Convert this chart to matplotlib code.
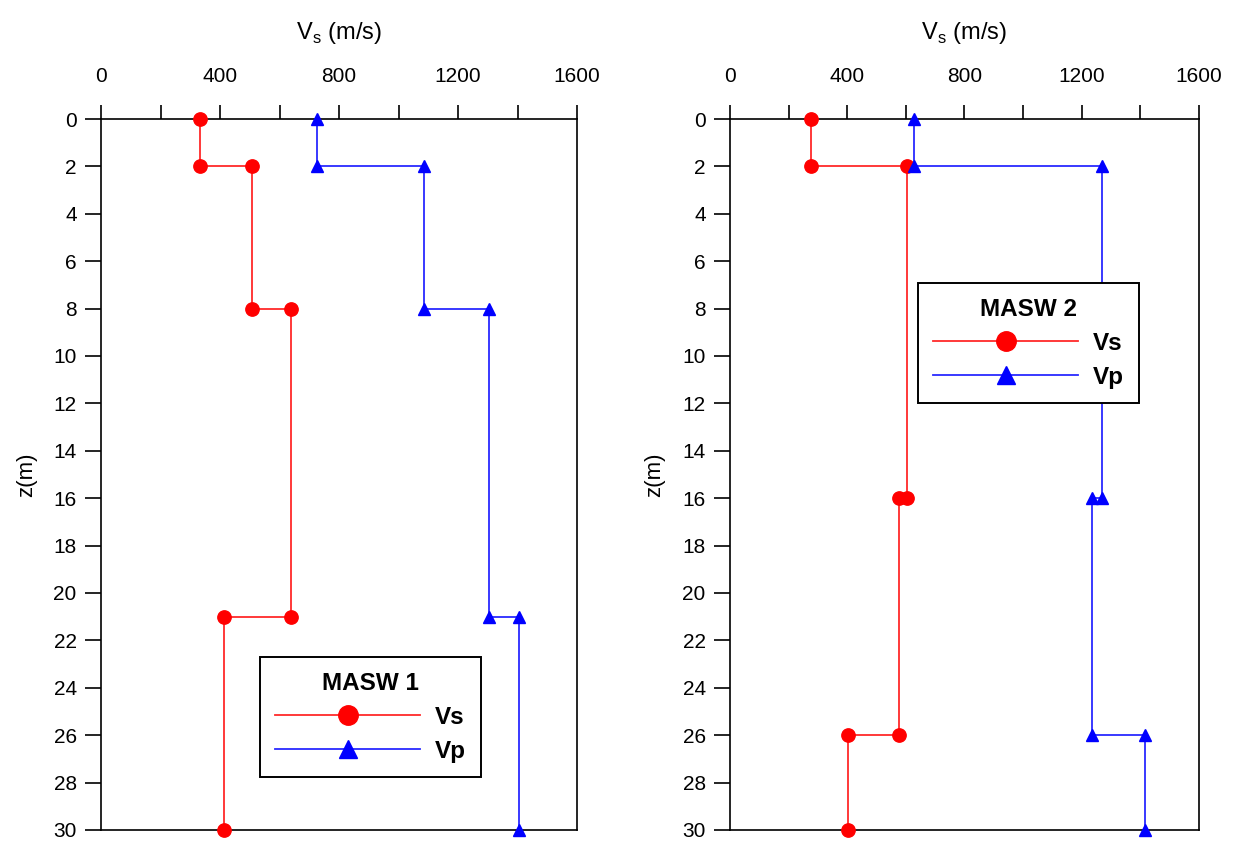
import matplotlib
matplotlib.use("Agg")
import matplotlib.pyplot as plt
from matplotlib.ticker import MultipleLocator

plt.rcParams['font.family'] = ['Liberation Sans', 'DejaVu Sans']

# MASW 1 profile (depth in m, velocity in m/s)
z1 = [0, 2, 2, 8, 8, 21, 21, 30]
vs1 = [333, 333, 508, 508, 640, 640, 413, 413]
vp1 = [726, 726, 1086, 1086, 1305, 1305, 1405, 1405]

# MASW 2 profile
z2 = [0, 2, 2, 16, 16, 26, 26, 30]
vs2 = [276, 276, 603, 603, 578, 578, 403, 403]
vp2 = [628, 628, 1268, 1268, 1235, 1235, 1416, 1416]

titles = ['MASW 1', 'MASW 2']
legend_pos = [(0.334, 0.243), (0.401, 0.769)]

fig = plt.figure(figsize=(12.41, 8.41), dpi=100)
ax1 = fig.add_axes([0.0814, 0.0131, 0.3836, 0.8454])
ax2 = fig.add_axes([0.5882, 0.0131, 0.3779, 0.8454])

for ax, z, vs, vp, title, pos in zip([ax1, ax2], [z1, z2], [vs1, vs2], [vp1, vp2],
                                     titles, legend_pos):
    ax.plot(vs, z, color='#ff2a2a', lw=1.3, marker='o', ms=9.6, mfc='red', mec='red',
            label='Vs', clip_on=False, zorder=3)
    ax.plot(vp, z, color='#2a2aff', lw=1.3, marker='^', ms=8.5, mfc='blue', mec='blue',
            label='Vp', clip_on=False, zorder=3)
    ax.set_xlim(0, 1600)
    ax.set_ylim(30, 0)
    ax.xaxis.tick_top()
    ax.xaxis.set_label_position('top')
    ax.xaxis.set_major_locator(MultipleLocator(400))
    ax.xaxis.set_minor_locator(MultipleLocator(200))
    ax.yaxis.set_major_locator(MultipleLocator(2))
    ax.tick_params(axis='x', which='both', direction='out', length=10, width=1.2,
                   labelsize=15, pad=14)
    ax.tick_params(axis='y', direction='out', length=11.5, width=1.2, labelsize=15, pad=6)
    for s in ax.spines.values():
        s.set_linewidth(1.2)
    ax.set_xlabel('V$_\\mathregular{s}$ (m/s)', fontsize=17, labelpad=20)
    ax.set_ylabel('z(m)', fontsize=16, labelpad=12)
    leg = ax.legend(loc='upper left', bbox_to_anchor=pos, title=title,
                    fancybox=False, edgecolor='black', framealpha=1,
                    handlelength=6.0, borderpad=0.6, labelspacing=0.45,
                    handletextpad=0.6, borderaxespad=0,
                    prop={'weight': 'bold', 'size': 17.5},
                    title_fontproperties={'weight': 'bold', 'size': 17.5})
    leg.legend_handles[0].set_markersize(14)
    leg.legend_handles[1].set_markersize(12.5)
    leg.get_frame().set_linewidth(1.4)

fig.savefig('out.png', dpi=100)
